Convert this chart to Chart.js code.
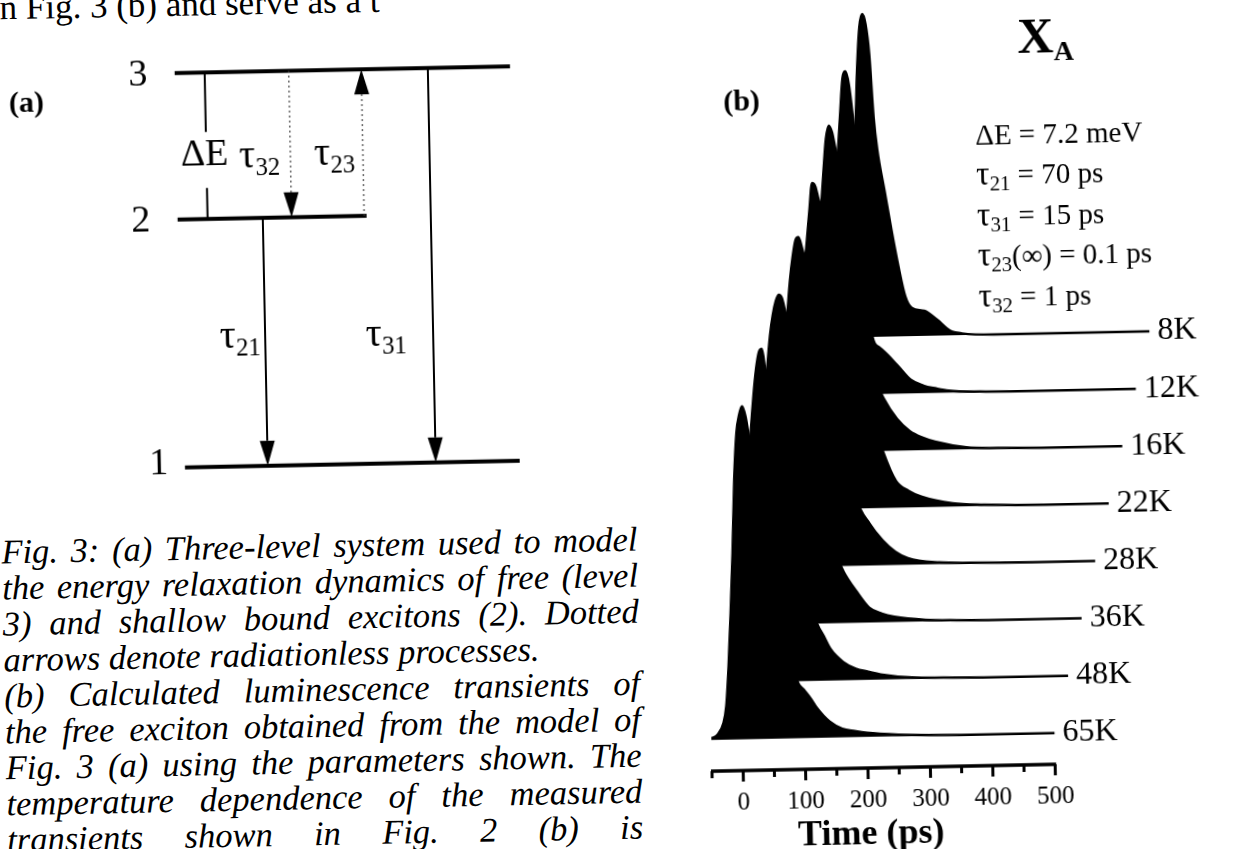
<!DOCTYPE html>
<html>
<head>
<meta charset="utf-8">
<title>Fig. 3</title>
<script src="https://cdn.jsdelivr.net/npm/chart.js@4.4.1/dist/chart.umd.min.js"></script>
<style>
  html, body { margin: 0; padding: 0; background: #fff; }
  body { width: 1238px; height: 849px; overflow: hidden; position: relative; }
  /* the scanned page is turned a little; turn the whole sheet the same way */
  #page {
    position: absolute; left: 0; top: 0; width: 1238px; height: 849px;
    transform: rotate(-1.15deg); transform-origin: 619px 424.5px;
    font-family: 'Liberation Serif', 'Times New Roman', serif; color: #000;
  }
  #page canvas { position: absolute; top: 0; }
  #chartA { left: 0; }
  #chartB { left: 680px; }
  .t { position: absolute; white-space: nowrap; line-height: 1; transform: translate(-50%, -50%); }
  .l { transform: translate(0, -50%); }
  .b { font-weight: bold; }
  .sub { position: relative; top: 0.32em; font-size: 0.62em; }
  #params .sub { font-size: 0.72em; top: 0.3em; }
  .tau { font-size: 1.15em; line-height: 0; }
  #topline { position: absolute; left: 8px; top: -22px; font-size: 35px; line-height: 35px; white-space: nowrap; }
  #caption { position: absolute; left: -1px; top: 521px; width: 636px; font-style: italic; font-size: 34.5px; }
  #caption div { height: 36px; line-height: 36px; text-align: justify; text-align-last: justify; }
  #caption div.end { text-align-last: left; }
</style>
</head>
<body>
<div id="page">
  <div id="topline">n Fig. 3 (b) and serve as a t</div>

  <canvas id="chartA" width="600" height="520"></canvas>
  <canvas id="chartB" width="558" height="849"></canvas>

  <!-- panel (a) labels -->
  <div class="t b" style="left:33px; top:90px; font-size:30px;">(a)</div>
  <div class="t" style="left:145px; top:63px; font-size:38px;">3</div>
  <div class="t" style="left:145px; top:209px; font-size:38px;">2</div>
  <div class="t" style="left:158px; top:452px; font-size:38px;">1</div>
  <div class="t" style="left:210px; top:144px; font-size:38px;">&Delta;E</div>
  <div class="t" style="left:265px; top:147px; font-size:40px;">&tau;<span class="sub">32</span></div>
  <div class="t" style="left:340px; top:146px; font-size:40px;">&tau;<span class="sub">23</span></div>
  <div class="t" style="left:242px; top:327px; font-size:40px;">&tau;<span class="sub">21</span></div>
  <div class="t" style="left:388px; top:328px; font-size:40px;">&tau;<span class="sub">31</span></div>

  <!-- panel (b) labels -->
  <div class="t b" style="left:748px; top:103px; font-size:30px;">(b)</div>
  <div class="t l b" style="left:1025px; top:44px; font-size:50px;">X<span class="sub" style="font-size:0.56em; top:0.3em;">A</span></div>
  <div id="params"></div>
  <div class="t b" style="left:863px; top:837px; font-size:36px;">Time (ps)</div>

  <div id="caption">
    <div>Fig. 3: (a) Three-level system used to model</div>
    <div>the energy relaxation dynamics of free (level</div>
    <div>3) and shallow bound excitons (2). Dotted</div>
    <div class="end">arrows denote radiationless processes.</div>
    <div>(b) Calculated luminescence transients of</div>
    <div>the free exciton obtained from the model of</div>
    <div>Fig. 3 (a) using the parameters shown. The</div>
    <div>temperature dependence of the measured</div>
    <div>transients shown in Fig. 2 (b) is</div>
  </div>
</div>

<script>
// ---- panel (b) data: calculated free exciton transients (normalised, %) ----
const timePs = [-50, -40, -30, -25, -20, -15, -10, -5, 0, 5, 10, 15, 20, 25, 30, 35, 40, 45,
                50, 55, 60, 65, 70, 80, 90, 100, 110, 120, 140, 160, 180, 200, 250, 300, 400, 500];
const temps = ['65K', '48K', '36K', '28K', '22K', '16K', '12K', '8K'];

const i65K = [0.5, 1.5, 5, 10, 22, 38, 56, 78, 92, 97.5, 100, 97, 91, 86, 80, 75, 69, 63,
              58, 52, 47, 41, 36, 26, 17, 14.5, 12, 9, 4.8, 2.6, 1.8, 1.2, 0.5, 0.2, 0, 0];
const i48K = [0, 0.5, 3, 6, 14, 28, 45, 63, 76, 86, 94, 99, 100, 93, 87, 81, 75, 70,
              64, 59, 53, 48, 42, 32, 23, 17, 13.3, 9.5, 5.5, 3.4, 2.4, 1.5, 0.4, 0.2, 0, 0];
const i36K = [0, 0.3, 1.5, 3, 7, 14, 27, 45, 66, 78, 87, 93, 97, 99, 98, 94, 90, 86,
              82, 77, 71, 66, 60, 49, 38, 28, 20, 15.5, 9.5, 4.5, 2.6, 1.6, 0.5, 0.2, 0, 0];
const i28K = [0, 0, 0.5, 1, 2, 4, 9, 18, 32, 48, 63, 76, 86, 93, 98, 99, 96, 92,
              88, 84, 80, 75, 70, 60, 50, 40, 31, 20, 12.5, 7.5, 4, 2, 0.5, 0.2, 0, 0];
const i22K = [0, 0, 0.3, 0.6, 1.2, 2.5, 5, 10, 19, 32, 46, 60, 72, 81, 90, 98, 97, 93,
              90, 87, 82, 78, 73, 64, 55, 46, 38, 30, 17, 8, 5, 3.2, 1, 0.4, 0, 0];
const i16K = [0, 0, 0.2, 0.4, 1, 2, 4, 8, 15, 26, 38, 51, 63, 73, 84, 94, 98, 96,
              91, 87, 82, 76, 70, 56, 42, 30, 20, 15.5, 9.5, 5.8, 3.8, 2.5, 0.6, 0.2, 0, 0];
const i12K = [0, 0, 0, 0.2, 0.5, 1, 2, 4, 8, 14, 22, 33, 46, 58, 72, 84, 95, 97,
              93, 84, 73, 58, 42, 17, 14, 12.3, 10.3, 8.2, 4, 2.2, 1.3, 0.6, 0.1, 0, 0, 0];
const i8K  = [0, 0, 0, 0, 0.2, 0.4, 0.8, 1.5, 3, 6, 11, 18, 27, 38, 49, 60, 80, 93,
              97, 94, 85, 66, 56, 44, 32, 21, 12, 8.5, 7.5, 4.8, 1.5, 0.5, 0, 0, 0, 0];
const series = [i65K, i48K, i36K, i28K, i22K, i16K, i12K, i8K];

const axisTicksPs = [-50, 0, 50, 100, 150, 200, 250, 300, 350, 400, 450, 500];
const tau = '<span class="tau">&tau;</span>';
const paramLines = ['&Delta;E = 7.2 meV', tau + '<span class="sub">21</span> = 70 ps',
                    tau + '<span class="sub">31</span> = 15 ps', tau + '<span class="sub">23</span>(&infin;) = 0.1 ps',
                    tau + '<span class="sub">32</span> = 1 ps'];

// ---- panel (a) data: three-level scheme (energies not to scale) ----
const levelNames = ['1', '2', '3'];
const levelEnergy = [0, 1, 1.59];
const transLabels = ['τ21', 'τ31', 'τ32', 'τ23'];
const transFrom = [1, 2, 2, 1];
const transTo = [0, 0, 1, 2];
const transRadiative = [true, true, false, false];

// layout of the sketch, x in sketch units (0..10)
const levelSpan = [[3.07, 8.65], [3.03, 6.18], [3.03, 8.62]];
const transX = [4.45, 7.25, 4.93, 6.14];
const deltaEX = 3.53;
const deltaEGap = [1.124, 1.35];

// waterfall layout
const traceShiftPs = 23.56;
const traceShiftY = 17.15;
const traceEndPs = 500;

Chart.defaults.font.family = "'Liberation Serif', serif";
Chart.defaults.color = '#000';

// params text block
const params = document.getElementById('params');
paramLines.forEach((txt, i) => {
    const d = document.createElement('div');
    d.className = 't l';
    d.style.left = '981px';
    d.style.top = (141.6 + i * 40.5) + 'px';
    d.style.fontSize = '29px';
    d.innerHTML = txt;
    params.appendChild(d);
});

function drawArrow(ctx, x, yFrom, yTo, dotted) {
    const dir = Math.sign(yTo - yFrom);
    const headLen = 25, headW = 7.5;
    ctx.save();
    ctx.strokeStyle = dotted ? '#333' : '#000';
    ctx.fillStyle = '#000';
    ctx.lineWidth = dotted ? 1.5 : 2;
    if (dotted) ctx.setLineDash([1.5, 3.5]);
    ctx.beginPath();
    ctx.moveTo(x, yFrom);
    ctx.lineTo(x, yTo - dir * headLen);
    ctx.stroke();
    ctx.setLineDash([]);
    ctx.beginPath();
    ctx.moveTo(x, yTo);
    ctx.lineTo(x - headW, yTo - dir * headLen);
    ctx.lineTo(x + headW, yTo - dir * headLen);
    ctx.closePath();
    ctx.fill();
    ctx.restore();
}

const schemeArrows = {
    id: 'schemeArrows',
    afterDatasetsDraw(chart) {
        const { ctx, scales: { x, y } } = chart;
        transLabels.forEach((lbl, i) => {
            drawArrow(ctx, x.getPixelForValue(transX[i]),
                y.getPixelForValue(levelEnergy[transFrom[i]]),
                y.getPixelForValue(levelEnergy[transTo[i]]), !transRadiative[i]);
        });
        // Delta E bar between levels 2 and 3, broken for its label
        const px = x.getPixelForValue(deltaEX);
        ctx.save();
        ctx.strokeStyle = '#000';
        ctx.lineWidth = 2;
        ctx.beginPath();
        ctx.moveTo(px, y.getPixelForValue(levelEnergy[2]));
        ctx.lineTo(px, y.getPixelForValue(deltaEGap[1]));
        ctx.moveTo(px, y.getPixelForValue(deltaEGap[0]));
        ctx.lineTo(px, y.getPixelForValue(levelEnergy[1]));
        ctx.stroke();
        ctx.restore();
    }
};

new Chart(document.getElementById('chartA'), {
    type: 'line',
    data: {
        datasets: levelNames.map((name, i) => ({
            label: 'level ' + name,
            data: [{ x: levelSpan[i][0], y: levelEnergy[i] }, { x: levelSpan[i][1], y: levelEnergy[i] }],
            borderColor: '#000',
            borderWidth: 4,
            pointRadius: 0,
            fill: false
        }))
    },
    options: {
        responsive: false,
        animation: false,
        events: [],
        layout: { padding: 0 },
        plugins: { legend: { display: false }, tooltip: { enabled: false } },
        scales: {
            x: { type: 'linear', min: 0, max: 10, display: false },
            y: { type: 'linear', min: -0.247, max: 1.849, display: false }
        }
    },
    plugins: [schemeArrows]
});

// axis line, ticks and temperature labels of the waterfall
const waterfallExtras = {
    id: 'waterfallExtras',
    afterDraw(chart) {
        const { ctx, chartArea, scales: { x, y } } = chart;
        const bottom = chartArea.bottom;
        ctx.save();
        ctx.strokeStyle = '#000';
        ctx.fillStyle = '#000';
        ctx.lineWidth = 3.5;
        ctx.beginPath();
        ctx.moveTo(x.getPixelForValue(axisTicksPs[0]) - 1, bottom);
        ctx.lineTo(x.getPixelForValue(axisTicksPs[axisTicksPs.length - 1]) + 1, bottom);
        ctx.stroke();
        ctx.lineWidth = 3;
        x.ticks.forEach(t => {
            const px = x.getPixelForValue(t.value);
            const len = t.value % 100 === 0 ? 11 : 7;
            ctx.beginPath();
            ctx.moveTo(px, bottom);
            ctx.lineTo(px, bottom + len);
            ctx.stroke();
        });
        ctx.font = "32px 'Liberation Serif'";
        ctx.textBaseline = 'middle';
        ctx.textAlign = 'left';
        temps.forEach((name, k) => {
            ctx.fillText(name, x.getPixelForValue(traceEndPs + k * traceShiftPs) + 8,
                y.getPixelForValue(k * traceShiftY));
        });
        ctx.restore();
    }
};

const traceSets = temps.map((name, k) => {
    const pts = [];
    timePs.forEach((t, i) => {
        // only the front trace shows its lead-in; the others start hidden behind it
        if (k > 0 && t < -40) return;
        pts.push({ x: t + k * traceShiftPs, y: series[k][i] + k * traceShiftY });
    });
    return {
        label: name,
        data: pts,
        borderColor: '#000',
        borderWidth: 2.5,
        backgroundColor: '#000',
        fill: { value: k * traceShiftY },
        pointRadius: 0,
        cubicInterpolationMode: 'monotone'
    };
});

new Chart(document.getElementById('chartB'), {
    type: 'line',
    data: { datasets: traceSets },
    options: {
        responsive: false,
        animation: false,
        events: [],
        layout: { padding: { left: 25, right: 25, top: 0, bottom: 0 } },
        plugins: { legend: { display: false }, tooltip: { enabled: false } },
        scales: {
            x: {
                type: 'linear',
                min: -50,
                max: 764,
                afterBuildTicks: s => { s.ticks = s.ticks.filter(t => axisTicksPs.includes(t.value)); },
                afterFit: s => { s.height = 76; },
                grid: { display: false, drawTicks: false },
                border: { display: false },
                ticks: {
                    stepSize: 50,
                    autoSkip: false,
                    maxRotation: 0,
                    padding: 17,
                    color: '#000',
                    font: { size: 25 },
                    callback: v => (v % 100 === 0 ? String(v) : '')
                }
            },
            y: { type: 'linear', min: -9.37, max: 222.76, display: false }
        }
    },
    plugins: [waterfallExtras]
});
</script>
</body>
</html>
